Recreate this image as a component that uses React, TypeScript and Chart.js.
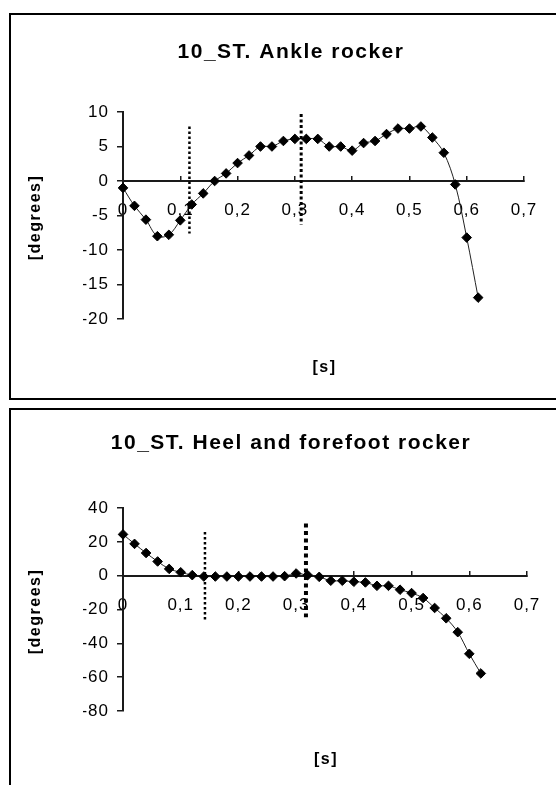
import React, { useEffect, useRef } from 'react';
import { Chart, registerables } from 'chart.js';

Chart.register(...registerables);

const FONT = '"Liberation Sans", Arial, Helvetica, sans-serif';
const AXIS = '#1a1a1a';

// ---- data ----
const TIME_S = [0, 0.02, 0.04, 0.06, 0.08, 0.1, 0.12, 0.14, 0.16, 0.18, 0.2, 0.22, 0.24, 0.26, 0.28, 0.3, 0.32, 0.34, 0.36, 0.38, 0.4, 0.42, 0.44, 0.46, 0.48, 0.5, 0.52, 0.54, 0.56, 0.58, 0.6, 0.62];

const ANKLE_DEG = [-1.0, -3.6, -5.6, -8.0, -7.8, -5.7, -3.4, -1.8, 0.0, 1.1, 2.6, 3.7, 5.0, 5.0, 5.8, 6.1, 6.1, 6.1, 5.0, 5.0, 4.4, 5.5, 5.8, 6.8, 7.6, 7.6, 7.9, 6.3, 4.1, -0.5, -8.2, -16.9];

const HEEL_FOREFOOT_DEG = [24.4, 18.8, 13.4, 8.4, 4.0, 2.0, 0.3, -0.5, -0.5, -0.5, -0.5, -0.5, -0.5, -0.5, -0.3, 1.3, 0.3, -0.7, -3.0, -3.0, -3.6, -4.0, -6.0, -6.0, -8.3, -10.3, -13.2, -19.1, -25.2, -33.4, -46.2, -57.8];

const X_TICKS = [0, 0.1, 0.2, 0.3, 0.4, 0.5, 0.6, 0.7];
const ANKLE_Y_TICKS = [-20, -15, -10, -5, 0, 5, 10];
const HEEL_Y_TICKS = [-80, -60, -40, -20, 0, 20, 40];

// vertical dotted phase markers: x position, top value, bottom value
const ANKLE_MARK_X = [0.116, 0.311];
const ANKLE_MARK_TOP = [7.9, 9.7];
const ANKLE_MARK_BOTTOM = [-7.6, -6.3];

const HEEL_MARK_X = [0.142, 0.317];
const HEEL_MARK_TOP = [25.8, 30.9];
const HEEL_MARK_BOTTOM = [-26.6, -24.6];

const ANKLE_TITLE = '10_ST. Ankle rocker';
const HEEL_TITLE = '10_ST. Heel and forefoot rocker';
const X_TITLE = '[s]';
const Y_TITLE = '[degrees]';

// ---- helpers ----
const fmtX = (v: number) => (v === 0 ? '0' : Number(v).toFixed(1).replace('.', ','));

const decorPlugin = {
  id: 'decor',
  beforeDraw(chart: any) {
    chart.ctx.letterSpacing = '1px';
  },
  afterDraw(chart: any, _args: any, opts: any) {
    const { ctx, chartArea } = chart;
    ctx.save();
    ctx.fillStyle = '#000';
    ctx.textAlign = 'center';
    ctx.textBaseline = 'middle';
    ctx.letterSpacing = '1.5px';
    ctx.font = `bold 21px ${FONT}`;
    ctx.fillText(opts.title, opts.titleX + 1, opts.titleY);
    ctx.letterSpacing = '1.5px';
    ctx.font = `bold 16px ${FONT}`;
    ctx.fillText(opts.xTitle, (chartArea.left + chartArea.right) / 2 + 1, opts.xTitleY);
    ctx.translate(opts.yTitleX, (chartArea.top + chartArea.bottom) / 2 + 3);
    ctx.rotate(-Math.PI / 2);
    ctx.fillText(opts.yTitle, 1, 0);
    ctx.restore();
  },
};

type PanelProps = {
  width: number;
  height: number;
  title: string;
  values: number[];
  yTicks: number[];
  markX: number[];
  markTop: number[];
  markBottom: number[];
  markWidth: number[];
  markDash: number[][];
  padding: { left: number; right: number; top: number; bottom: number };
  titleY: number;
  xTitleY: number;
};

function ChartPanel(p: PanelProps) {
  const ref = useRef<HTMLCanvasElement | null>(null);

  useEffect(() => {
    if (!ref.current) return;
    const markerSets = p.markX.map((x, i) => ({
      data: [
        { x, y: p.markTop[i] },
        { x, y: p.markBottom[i] },
      ],
      showLine: true,
      borderColor: '#000',
      borderWidth: p.markWidth[i],
      borderDash: p.markDash[i],
      borderCapStyle: 'butt',
      pointRadius: 0,
      tension: 0,
      clip: false,
    }));
    const series = {
      data: TIME_S.map((t, i) => ({ x: t, y: p.values[i] })),
      showLine: true,
      borderColor: '#222',
      borderWidth: 1,
      tension: 0.35,
      pointStyle: 'rectRot',
      pointRadius: 4.8,
      pointBackgroundColor: '#000',
      pointBorderColor: '#000',
      pointBorderWidth: 1,
      clip: false,
    };
    const yMin = Math.min(...p.yTicks);
    const yMax = Math.max(...p.yTicks);
    const chart = new Chart(ref.current, {
      type: 'scatter',
      data: { datasets: [...markerSets, series] as any },
      options: {
        animation: false,
        responsive: false,
        devicePixelRatio: 1,
        events: [],
        layout: { padding: p.padding },
        plugins: {
          legend: { display: false },
          tooltip: { enabled: false },
          decor: {
            title: p.title,
            titleX: 279,
            titleY: p.titleY,
            xTitle: X_TITLE,
            xTitleY: p.xTitleY,
            yTitle: Y_TITLE,
            yTitleX: 25,
          },
        } as any,
        scales: {
          x: {
            type: 'linear',
            position: { y: 0 } as any,
            min: 0,
            max: 0.7,
            afterBuildTicks: (s: any) => {
              s.ticks = X_TICKS.map((v) => ({ value: v }));
            },
            grid: {
              display: true,
              drawOnChartArea: false,
              drawTicks: true,
              tickLength: -6,
              color: AXIS,
              lineWidth: 1.5,
            },
            border: { display: true, color: AXIS, width: 2 },
            ticks: {
              padding: 25,
              color: '#000',
              autoSkip: false,
              maxRotation: 0,
              font: { size: 17, family: FONT },
              callback: (v: any) => fmtX(Number(v)),
            },
          },
          y: {
            type: 'linear',
            position: 'left',
            min: yMin,
            max: yMax,
            afterBuildTicks: (s: any) => {
              s.ticks = p.yTicks.map((v) => ({ value: v }));
            },
            afterFit: (s: any) => {
              s.width = 40;
            },
            grid: {
              display: true,
              drawOnChartArea: false,
              drawTicks: true,
              tickLength: 6,
              color: AXIS,
              lineWidth: 1.5,
            },
            border: { display: true, color: AXIS, width: 2 },
            ticks: {
              padding: 8,
              color: '#000',
              font: { size: 17, family: FONT },
              callback: (v: any) => String(v),
            },
          },
        },
      } as any,
      plugins: [decorPlugin as any],
    });
    return () => chart.destroy();
  }, []);

  return (
    <canvas
      ref={ref}
      width={p.width}
      height={p.height}
      style={{ display: 'block', width: p.width, height: p.height }}
    />
  );
}

export default function App() {
  return (
    <div
      style={{
        position: 'fixed',
        left: 0,
        top: 0,
        width: 556,
        height: 785,
        overflow: 'hidden',
        background: '#fff',
      }}
    >
      <div
        style={{
          position: 'absolute',
          left: 9,
          top: 13,
          width: 566,
          height: 387,
          border: '2px solid #000',
          boxSizing: 'border-box',
        }}
      >
        <ChartPanel
          width={562}
          height={383}
          title={ANKLE_TITLE}
          values={ANKLE_DEG}
          yTicks={ANKLE_Y_TICKS}
          markX={ANKLE_MARK_X}
          markTop={ANKLE_MARK_TOP}
          markBottom={ANKLE_MARK_BOTTOM}
          markWidth={[2.5, 3]}
          markDash={[[2.5, 2.5], [3, 2.5]]}
          padding={{ left: 72, right: 49, top: 97, bottom: 79 }}
          titleY={37}
          xTitleY={353}
        />
      </div>
      <div
        style={{
          position: 'absolute',
          left: 9,
          top: 408,
          width: 566,
          height: 400,
          border: '2px solid #000',
          boxSizing: 'border-box',
        }}
      >
        <ChartPanel
          width={562}
          height={396}
          title={HEEL_TITLE}
          values={HEEL_FOREFOOT_DEG}
          yTicks={HEEL_Y_TICKS}
          markX={HEEL_MARK_X}
          markTop={HEEL_MARK_TOP}
          markBottom={HEEL_MARK_BOTTOM}
          markWidth={[2.5, 4]}
          markDash={[[2.5, 2.5], [4, 3.5]]}
          padding={{ left: 72, right: 46, top: 98, bottom: 95 }}
          titleY={33}
          xTitleY={350}
        />
      </div>
    </div>
  );
}
